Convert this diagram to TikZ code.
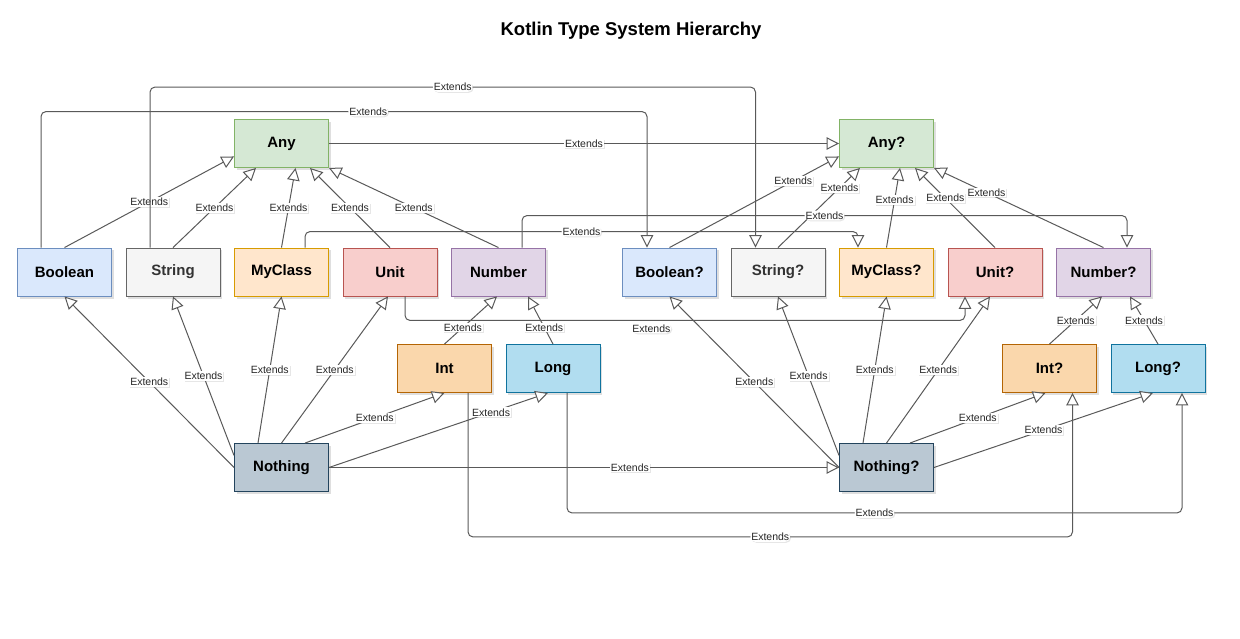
\documentclass[tikz,border=0pt]{standalone}
\usepackage{fontspec}
\setmainfont{Liberation Sans}
\usetikzlibrary{arrows.meta,shadows}

\definecolor{anyfill}{HTML}{D5E8D4}  \definecolor{anydraw}{HTML}{82B366}
\definecolor{boolfill}{HTML}{DAE8FC} \definecolor{booldraw}{HTML}{6C8EBF}
\definecolor{strfill}{HTML}{F5F5F5}  \definecolor{strdraw}{HTML}{666666}
\definecolor{mycfill}{HTML}{FFE6CC}  \definecolor{mycdraw}{HTML}{D79B00}
\definecolor{unitfill}{HTML}{F8CECC} \definecolor{unitdraw}{HTML}{B85450}
\definecolor{numfill}{HTML}{E1D5E7}  \definecolor{numdraw}{HTML}{9673A6}
\definecolor{intfill}{HTML}{FAD7AC}  \definecolor{intdraw}{HTML}{B46504}
\definecolor{longfill}{HTML}{B1DDF0} \definecolor{longdraw}{HTML}{10739E}
\definecolor{nothfill}{HTML}{BAC8D3} \definecolor{nothdraw}{HTML}{23445D}

\begin{document}
\begin{tikzpicture}[x=1pt, y=-1pt]
\tikzstyle{typebox} = [draw, rectangle, minimum width = 94pt, minimum height = 48pt, inner sep = 0pt, line width = 0.9pt, font = \fontsize{15}{18}\selectfont\bfseries, drop shadow = {shadow xshift = 2pt, shadow yshift = -2.5pt, opacity = 0.25}] % define type box
\tikzstyle{ext} 	= [draw = black!65, line width = 1pt, -{Triangle[length = 12.5pt, width = 12.5pt, fill = white]}] % define extends arrow
\tikzstyle{lbl} 	= [fill = white, inner sep = 1pt, font = \fontsize{10.5}{12}\selectfont, text = black!85, drop shadow = {shadow xshift = 1pt, shadow yshift = -1pt, opacity = 0.2}] % define edge label
\tikzstyle{anyc} 	= [fill = anyfill, draw = anydraw]
\tikzstyle{boolc} 	= [fill = boolfill, draw = booldraw]
\tikzstyle{strc} 	= [fill = strfill, draw = strdraw, text = black!80]
\tikzstyle{mycc} 	= [fill = mycfill, draw = mycdraw]
\tikzstyle{unitc} 	= [fill = unitfill, draw = unitdraw]
\tikzstyle{numc} 	= [fill = numfill, draw = numdraw]
\tikzstyle{intc} 	= [fill = intfill, draw = intdraw]
\tikzstyle{longc} 	= [fill = longfill, draw = longdraw]
\tikzstyle{nothc} 	= [fill = nothfill, draw = nothdraw]

\useasboundingbox (0,0) rectangle (1240,639);

\node(title)[font = \fontsize{18.5}{22}\selectfont\bfseries] at (631,31){Kotlin Type System Hierarchy};

% non-null types
\node(Any)[typebox, anyc] at (281.5,143.5){Any};
\node(Bool)[typebox, boolc] at (64.5,272){Boolean};
\node(Str)[typebox, strc, right of = Bool, node distance = 108.5pt]{String};
\node(MyC)[typebox, mycc, right of = Str, node distance = 108.5pt]{MyClass};
\node(Unit)[typebox, unitc, right of = MyC, node distance = 108.5pt]{Unit};
\node(Num)[typebox, numc, right of = Unit, node distance = 108.5pt]{Number};
\node(Int)[typebox, intc] at (444.5,368.5){Int};
\node(Long)[typebox, longc, right of = Int, node distance = 108.5pt]{Long};
\node(Noth)[typebox, nothc] at (281.5,467.5){Nothing};

% nullable types
\node(AnyN)[typebox, anyc, right of = Any, node distance = 605pt]{Any?};
\node(BoolN)[typebox, boolc] at (669.5,272){Boolean?};
\node(StrN)[typebox, strc, right of = BoolN, node distance = 108.5pt]{String?};
\node(MyCN)[typebox, mycc, right of = StrN, node distance = 108.5pt]{MyClass?};
\node(UnitN)[typebox, unitc, right of = MyCN, node distance = 108.5pt]{Unit?};
\node(NumN)[typebox, numc, right of = UnitN, node distance = 108.5pt]{Number?};
\node(IntN)[typebox, intc, right of = Int, node distance = 605pt]{Int?};
\node(LongN)[typebox, longc, right of = IntN, node distance = 108.5pt]{Long?};
\node(NothN)[typebox, nothc, right of = Noth, node distance = 605pt]{Nothing?};

% left side
\draw[ext](Bool.north) -- node[lbl]{Extends} ([yshift=11.5pt]Any.south west);
\draw[ext](Str.north) -- node[lbl]{Extends} ([xshift=-25.5pt]Any.south);
\draw[ext](MyC.north) -- node[lbl]{Extends} ([xshift=14pt]Any.south);
\draw[ext](Unit.north) -- node[lbl]{Extends} ([xshift=28.5pt]Any.south);
\draw[ext](Num.north) -- node[lbl]{Extends} (Any.south east);
\draw[ext](Int.north) -- node[lbl, pos=0.35]{Extends} ([xshift=-1.5pt]Num.south);
\draw[ext](Long.north) -- node[lbl, pos=0.35]{Extends} ([xshift=29.5pt]Num.south);
\draw[ext](Noth.west) -- node[lbl]{Extends} (Bool.south);
\draw[ext]([yshift=12pt]Noth.west) -- node[lbl]{Extends} (Str.south);
\draw[ext]([xshift=-23.5pt]Noth.north) -- node[lbl]{Extends} (MyC.south);
\draw[ext](Noth.north) -- node[lbl]{Extends} ([xshift=-2pt]Unit.south);
\draw[ext]([xshift=23.5pt]Noth.north) -- node[lbl]{Extends} (Int.south);
\draw[ext](Noth.east) -- node[lbl, pos=0.74]{Extends} ([xshift=-5pt]Long.south);

% right side
\draw[ext](BoolN.north) -- node[lbl, pos=0.73]{Extends} ([yshift=11.5pt]AnyN.south west);
\draw[ext](StrN.north) -- node[lbl, pos=0.75]{Extends} ([xshift=-26.5pt]AnyN.south);
\draw[ext](MyCN.north) -- node[lbl, pos=0.6]{Extends} ([xshift=13.5pt]AnyN.south);
\draw[ext](UnitN.north) -- node[lbl, pos=0.62]{Extends} ([xshift=28.5pt]AnyN.south);
\draw[ext](NumN.north) -- node[lbl, pos=0.69]{Extends} (AnyN.south east);
\draw[ext](IntN.north) -- node[lbl]{Extends} ([xshift=-1.5pt]NumN.south);
\draw[ext](LongN.north) -- node[lbl]{Extends} ([xshift=26.5pt]NumN.south);
\draw[ext](NothN.west) -- node[lbl]{Extends} (BoolN.south);
\draw[ext]([yshift=12pt]NothN.west) -- node[lbl]{Extends} (StrN.south);
\draw[ext]([xshift=-23.5pt]NothN.north) -- node[lbl]{Extends} (MyCN.south);
\draw[ext](NothN.north) -- node[lbl]{Extends} ([xshift=-5pt]UnitN.south);
\draw[ext]([xshift=23.5pt]NothN.north) -- node[lbl]{Extends} ([xshift=-4pt]IntN.south);
\draw[ext](NothN.east) -- node[lbl]{Extends} ([xshift=-5pt]LongN.south);

% type to nullable type
\draw[ext](Any.east) -- node[lbl]{Extends} (AnyN.west);
\draw[ext](Noth.east) -- node[lbl, pos=0.59]{Extends} (NothN.west);
\draw[ext, rounded corners = 5pt]([xshift=-23.5pt]Bool.north) -- ++(0,-136) -| node[lbl, pos=0.27]{Extends} ([xshift=-22.5pt]BoolN.north);
\draw[ext, rounded corners = 5pt]([xshift=-23pt]Str.north) -- ++(0,-160.5) -| node[lbl, pos=0.25]{Extends} ([xshift=-22.5pt]StrN.north);
\draw[ext, rounded corners = 5pt]([xshift=23.5pt]MyC.north) -- ++(0,-16) -| node[lbl, pos=0.25]{Extends} ([xshift=-28.5pt]MyCN.north);
\draw[ext, rounded corners = 5pt]([xshift=23.5pt]Num.north) -- ++(0,-32) -| node[lbl, pos=0.25]{Extends} ([xshift=23.5pt]NumN.north);
\draw[ext, rounded corners = 5pt]([xshift=15pt]Unit.south) -- ++(0,24) -| node[lbl, pos=0.22, yshift=-8pt]{Extends} ([xshift=-30pt]UnitN.south);
\draw[ext, rounded corners = 5pt]([xshift=23.5pt]Int.south) -- ++(0,144) -| node[lbl, pos=0.25]{Extends} ([xshift=23pt]IntN.south);
\draw[ext, rounded corners = 5pt]([xshift=14pt]Long.south) -- ++(0,120) -| node[lbl, pos=0.25]{Extends} ([xshift=24pt]LongN.south);
\end{tikzpicture}
\end{document}
